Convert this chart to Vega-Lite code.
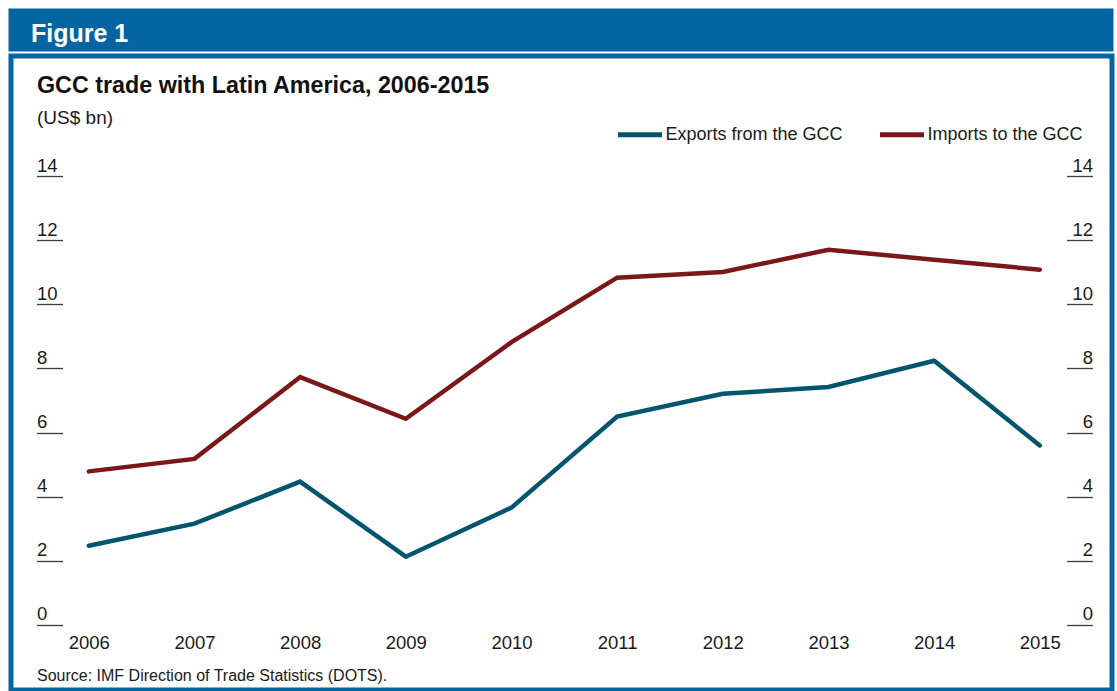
{
  "$schema": "https://vega.github.io/schema/vega-lite/v6.json",
  "background": "white",
  "padding": {"left": 8, "top": 8, "right": 3, "bottom": 0},
  "spacing": 1,
  "config": {"view": {"stroke": null}, "font": "Liberation Sans"},
  "resolve": {"legend": {"color": "independent"}},
  "vconcat": [
    {
      "width": 1100,
      "height": 38,
      "view": {"fill": "#0565a2", "stroke": "#0565a2", "strokeWidth": 5},
      "data": {"values": []},
      "mark": "point",
      "encoding": {
        "x": {
          "field": "year",
          "type": "quantitative",
          "scale": {"domain": [0, 1]},
          "axis": {
            "orient": "top",
            "values": [],
            "domain": false,
            "ticks": false,
            "labels": false,
            "grid": false,
            "title": "Figure 1",
            "titleX": 19.5,
            "titleY": 30.5,
            "titleAlign": "left",
            "titleAnchor": "start",
            "titleBaseline": "alphabetic",
            "titleFontSize": 25,
            "titleFontWeight": "bold",
            "titleColor": "white"
          }
        }
      }
    },
    {
      "width": 1101,
      "height": 634,
      "view": {"fill": "white", "stroke": "#0565a2", "strokeWidth": 5},
      "data": {
        "values": [
          {"year": 2006, "series": "Exports from the GCC", "value": 2.47},
          {"year": 2007, "series": "Exports from the GCC", "value": 3.16},
          {"year": 2008, "series": "Exports from the GCC", "value": 4.47},
          {"year": 2009, "series": "Exports from the GCC", "value": 2.13},
          {"year": 2010, "series": "Exports from the GCC", "value": 3.66},
          {"year": 2011, "series": "Exports from the GCC", "value": 6.5},
          {"year": 2012, "series": "Exports from the GCC", "value": 7.21},
          {"year": 2013, "series": "Exports from the GCC", "value": 7.42},
          {"year": 2014, "series": "Exports from the GCC", "value": 8.24},
          {"year": 2015, "series": "Exports from the GCC", "value": 5.6},
          {"year": 2006, "series": "Imports to the GCC", "value": 4.79},
          {"year": 2007, "series": "Imports to the GCC", "value": 5.18},
          {"year": 2008, "series": "Imports to the GCC", "value": 7.73},
          {"year": 2009, "series": "Imports to the GCC", "value": 6.43},
          {"year": 2010, "series": "Imports to the GCC", "value": 8.82},
          {"year": 2011, "series": "Imports to the GCC", "value": 10.83},
          {"year": 2012, "series": "Imports to the GCC", "value": 11.01},
          {"year": 2013, "series": "Imports to the GCC", "value": 11.7},
          {"year": 2014, "series": "Imports to the GCC", "value": 11.39},
          {"year": 2015, "series": "Imports to the GCC", "value": 11.08}
        ]
      },
      "encoding": {
        "x": {
          "field": "year",
          "type": "quantitative",
          "scale": {"domain": [2005.2637, 2015.6832], "nice": false, "zero": false},
          "axis": {
            "orient": "bottom",
            "offset": -65,
            "values": [2006, 2007, 2008, 2009, 2010, 2011, 2012, 2013, 2014, 2015],
            "format": "d",
            "domain": false,
            "ticks": false,
            "tickSize": 0,
            "grid": false,
            "labelFlush": false,
            "labelBaseline": "alphabetic",
            "labelPadding": 23.5,
            "labelFontSize": 18.5,
            "labelColor": "#1a1a1a",
            "title": "Source: IMF Direction of Trade Statistics (DOTS).",
            "titleX": 25.5,
            "titleY": 55.5,
            "titleAlign": "left",
            "titleAnchor": "start",
            "titleBaseline": "alphabetic",
            "titleFontSize": 16,
            "titleFontWeight": "normal",
            "titleColor": "#1a1a1a"
          }
        }
      },
      "layer": [
        {
          "mark": {"type": "line", "strokeWidth": 4.5, "strokeCap": "round", "strokeJoin": "miter"},
          "encoding": {
            "y": {
              "field": "value",
              "type": "quantitative",
              "scale": {"domain": [-2.027, 17.742], "nice": false, "zero": false},
              "axis": {
                "orient": "left",
                "offset": -51.5,
                "values": [0, 2, 4, 6, 8, 10, 12, 14],
                "domain": false,
                "grid": false,
                "ticks": true,
                "tickSize": 26,
                "tickColor": "#3a3a3a",
                "tickWidth": 1.3,
                "labelFlush": false,
                "labelAlign": "left",
                "labelBaseline": "alphabetic",
                "labelPadding": 0,
                "labelOffset": -5,
                "labelFontSize": 18.5,
                "labelColor": "#1a1a1a",
                "title": "(US$ bn)",
                "titleAngle": 0,
                "titleAlign": "left",
                "titleBaseline": "alphabetic",
                "titleX": -26,
                "titleY": 67.5,
                "titleFontSize": 19,
                "titleFontWeight": "normal",
                "titleColor": "#1a1a1a"
              }
            },
            "color": {
              "field": "series",
              "type": "nominal",
              "scale": {
                "domain": ["Exports from the GCC", "Imports to the GCC"],
                "range": ["#03556e", "#7a1719"]
              },
              "legend": {
                "orient": "none",
                "legendX": 604.5,
                "legendY": 54,
                "direction": "horizontal",
                "title": null,
                "symbolType": "stroke",
                "symbolSize": 1936,
                "symbolStrokeWidth": 5,
                "labelFontSize": 18,
                "labelOffset": 1,
                "columnPadding": 26,
                "padding": 0,
                "labelColor": "#1a1a1a",
                "labelLimit": 0
              }
            }
          }
        },
        {
          "mark": {"type": "point", "opacity": 0},
          "encoding": {
            "y": {
              "field": "value",
              "type": "quantitative",
              "scale": {"domain": [-2.027, 17.742], "nice": false, "zero": false},
              "axis": {
                "orient": "right",
                "offset": -45.5,
                "values": [0, 2, 4, 6, 8, 10, 12, 14],
                "domain": false,
                "grid": false,
                "ticks": true,
                "tickSize": 26,
                "tickColor": "#3a3a3a",
                "tickWidth": 1.3,
                "labelFlush": false,
                "labelAlign": "right",
                "labelBaseline": "alphabetic",
                "labelPadding": 0,
                "labelOffset": -5,
                "labelFontSize": 18.5,
                "labelColor": "#1a1a1a",
                "title": "GCC trade with Latin America, 2006-2015",
                "titleAngle": 0,
                "titleAlign": "left",
                "titleBaseline": "alphabetic",
                "titleX": -1030,
                "titleY": 36.5,
                "titleFontSize": 23.3,
                "titleFontWeight": "bold",
                "titleColor": "#111111"
              }
            }
          }
        }
      ],
      "resolve": {"axis": {"y": "independent"}}
    }
  ]
}
